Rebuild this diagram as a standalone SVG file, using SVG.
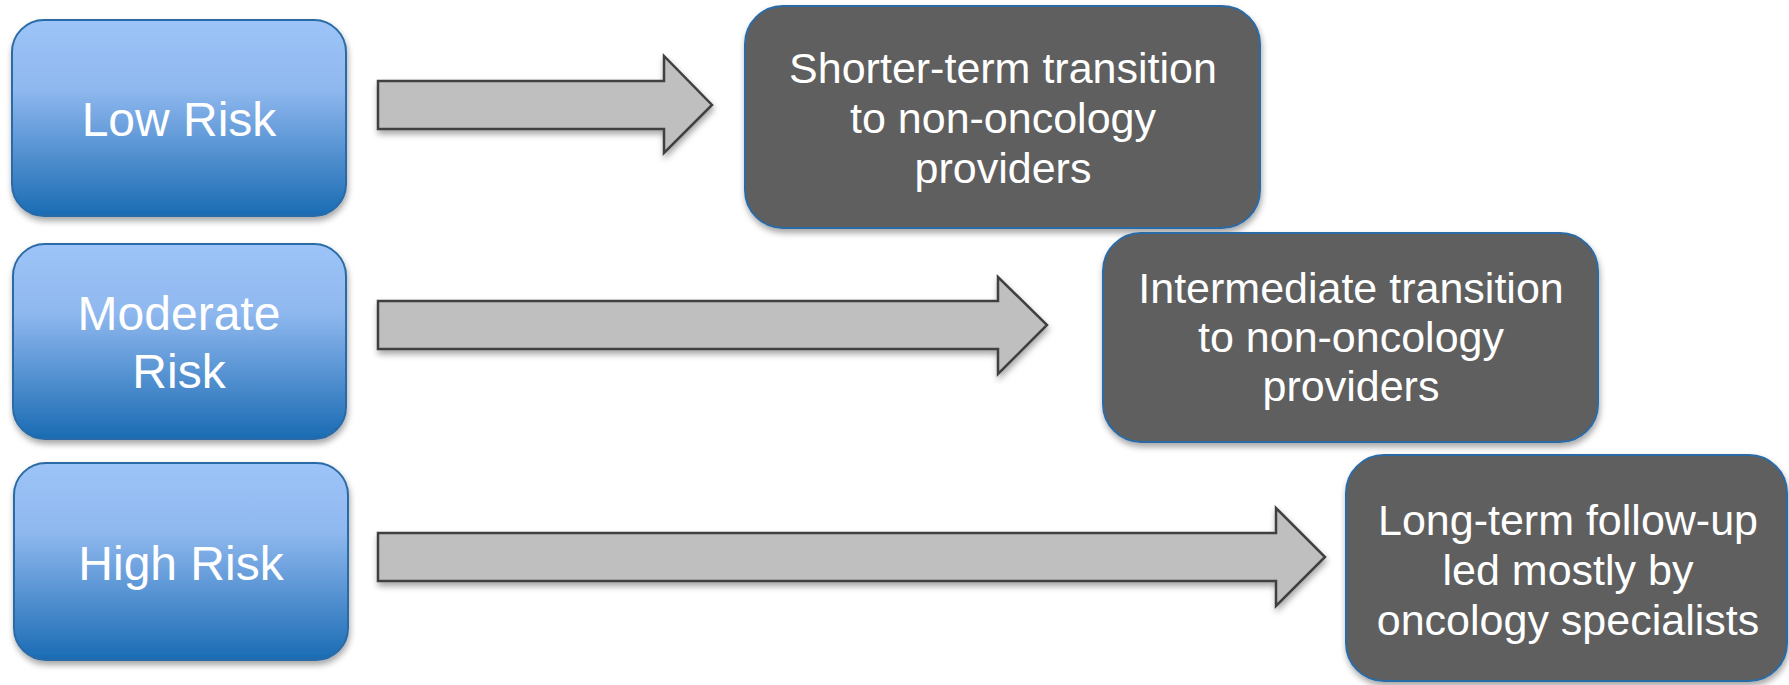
<svg xmlns="http://www.w3.org/2000/svg" width="1789" height="685" viewBox="0 0 1789 685">
<defs>
<linearGradient id="blueGrad" x1="0" y1="0" x2="0" y2="1">
<stop offset="0" stop-color="#9DC4F8"/>
<stop offset="0.35" stop-color="#8FB8EF"/>
<stop offset="1" stop-color="#1A6BB3"/>
</linearGradient>
<filter id="shadow" x="-10%" y="-10%" width="125%" height="130%">
<feDropShadow dx="1" dy="4" stdDeviation="3" flood-color="#000" flood-opacity="0.35"/>
</filter>
</defs>
<style>
.risk{fill:url(#blueGrad);stroke:#2C6BA6;stroke-width:2;filter:url(#shadow)}
.result{fill:#5F5F5F;stroke:#2C6BA6;stroke-width:2;filter:url(#shadow)}
.arrow{fill:#BFBFBF;stroke:#404040;stroke-width:2.5;stroke-linejoin:miter;filter:url(#shadow)}
.t1{font-family:"Liberation Sans",Arial,sans-serif;font-size:48px;fill:#FFFFFF;text-anchor:middle}
.t2{font-family:"Liberation Sans",Arial,sans-serif;font-size:43px;fill:#FFFFFF;text-anchor:middle}
</style>
<rect width="1789" height="685" fill="#FFFFFF"/>
<g id="connectors">
<polygon class="arrow" points="378,81 664,81 664,56 712,105 664,153 664,129 378,129"/>
<polygon class="arrow" points="378,301 998,301 998,277 1047,325 998,374 998,349 378,349"/>
<polygon class="arrow" points="378,533 1276,533 1276,508 1325,557 1276,606 1276,581 378,581"/>
</g>
<g id="low-risk">
<rect class="risk" x="12" y="20" width="334" height="196" rx="32" ry="32"/>
<text class="t1" x="179" y="136">Low Risk</text>
</g>
<g id="moderate-risk">
<rect class="risk" x="13" y="244" width="333" height="195" rx="32" ry="32"/>
<text class="t1" x="179" y="330">Moderate</text>
<text class="t1" x="179" y="388">Risk</text>
</g>
<g id="high-risk">
<rect class="risk" x="14" y="463" width="334" height="197" rx="32" ry="32"/>
<text class="t1" x="181" y="580">High Risk</text>
</g>
<g id="shorter-term">
<rect class="result" x="745" y="6" width="515" height="222" rx="38" ry="38"/>
<text class="t2" x="1003" y="83">Shorter-term transition</text>
<text class="t2" x="1003" y="133">to non-oncology</text>
<text class="t2" x="1003" y="183">providers</text>
</g>
<g id="intermediate">
<rect class="result" x="1103" y="233" width="495" height="209" rx="38" ry="38"/>
<text class="t2" x="1351" y="303">Intermediate transition</text>
<text class="t2" x="1351" y="352">to non-oncology</text>
<text class="t2" x="1351" y="401">providers</text>
</g>
<g id="long-term">
<rect class="result" x="1346" y="455" width="441" height="226" rx="38" ry="38"/>
<text class="t2" x="1568" y="535">Long-term follow-up</text>
<text class="t2" x="1568" y="585">led mostly by</text>
<text class="t2" x="1568" y="635">oncology specialists</text>
</g>
</svg>
